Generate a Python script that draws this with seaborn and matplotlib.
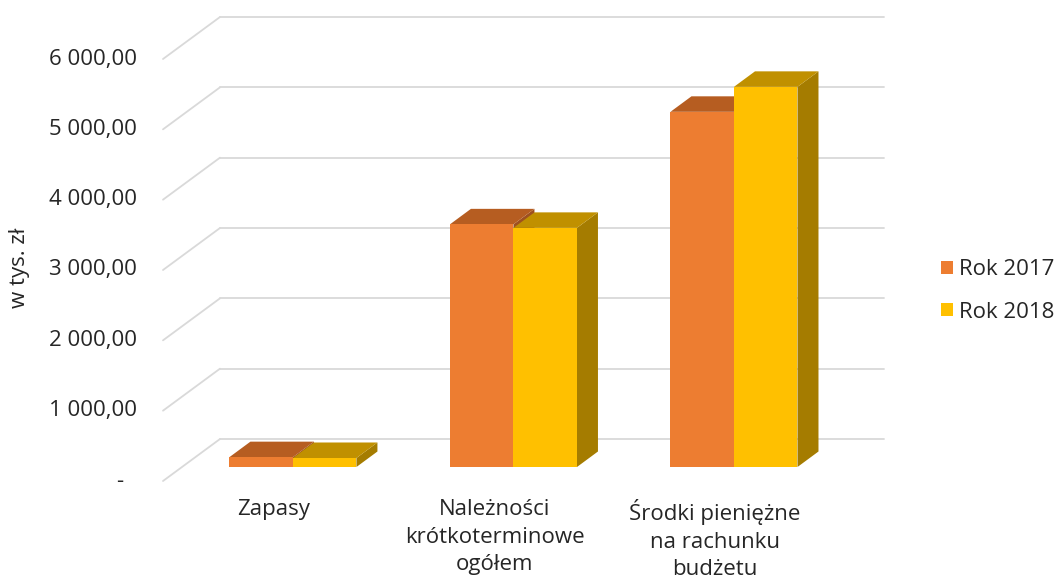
import pandas as pd
import numpy as np
import seaborn as sns
import matplotlib.pyplot as plt

# data (w tys. zł)
categories = ['Zapasy', 'Należności\nkrótkoterminowe\nogółem', 'Środki pieniężne\nna rachunku\nbudżetu']
years = ['Rok 2017', 'Rok 2018']
values_2017 = [140, 3450, 5050]
values_2018 = [128, 3400, 5405]
yticks = [0, 1000, 2000, 3000, 4000, 5000, 6000]
ytick_labels = ['-', '1 000,00', '2 000,00', '3 000,00', '4 000,00', '5 000,00', '6 000,00']

front_colors = ['#ED7D31', '#FFC000']
top_colors = ['#B65D21', '#C09000']
side_colors = ['#9E5020', '#A57C00']
grid_color = '#D9D9D9'

df = pd.DataFrame({
    'kategoria': categories * 2,
    'rok': [years[0]] * 3 + [years[1]] * 3,
    'wartosc': values_2017 + values_2018,
})

sns.set_theme(style='white')
plt.rcParams['font.family'] = ['Open Sans', 'DejaVu Sans']

W, H = 1061, 576
fig = plt.figure(figsize=(W / 100, H / 100), dpi=100)
# axes = front plane of the bars (pixels: x 182..846, value 0 at y=467, 6000 at y=45)
ax = fig.add_axes([182 / W, (H - 467) / H, 664 / W, 422 / H])

sns.barplot(data=df, x='kategoria', y='wartosc', hue='rok', palette=front_colors,
            width=0.576, linewidth=0, saturation=1, ax=ax)
handles, labels = ax.get_legend_handles_labels()
ax.get_legend().remove()
ax.set_xlim(-0.503, 2.508)
ax.set_ylim(0, 6000)
ax.axis('off')


def shifted(x, y, dx, dy):
    # move a data point by a pixel offset
    px, py = ax.transData.transform((x, y))
    return ax.transData.inverted().transform((px + dx, py + dy))


x0, x1 = ax.get_xlim()
back = (38, 28)     # bar plane -> back wall
front = (-19, -14)  # bar plane -> front edge
depth = (21, 15.5)  # depth of a bar

# back wall grid and the diagonal floor/side lines
for v, lab in zip(yticks, ytick_labels):
    a = shifted(x0, v, *back)
    b = shifted(x1, v, *back)
    c = shifted(x0, v, *front)
    ax.plot([a[0], b[0]], [a[1], b[1]], color=grid_color, lw=1.3, zorder=0, clip_on=False)
    ax.plot([c[0], a[0]], [c[1], a[1]], color=grid_color, lw=1.3, zorder=0, clip_on=False)
    off = -59 if lab == '-' else -45
    t = shifted(x0, v, off, -14)
    ax.text(t[0], t[1], lab, ha='right', va='center', fontsize=16, color='#262626', clip_on=False)

# 3D top and side faces for every bar
z = 2
for i in range(len(categories)):
    for k, cont in enumerate(ax.containers):
        bar = cont.patches[i]
        bx0, bx1 = bar.get_x(), bar.get_x() + bar.get_width()
        h = bar.get_height()
        side = [(bx1, 0), (bx1, h), tuple(shifted(bx1, h, *depth)), tuple(shifted(bx1, 0, *depth))]
        top = [(bx0, h), (bx1, h), tuple(shifted(bx1, h, *depth)), tuple(shifted(bx0, h, *depth))]
        ax.fill([p[0] for p in side], [p[1] for p in side], color=side_colors[k],
                lw=0, zorder=z, clip_on=False)
        ax.fill([p[0] for p in top], [p[1] for p in top], color=top_colors[k],
                lw=0, zorder=z + 0.1, clip_on=False)
        bar.set_zorder(z + 0.2)
        z += 1

# category labels on the front edge
for i, cat in enumerate(categories):
    t = shifted(i, 0, -19, -32)
    ax.text(t[0], t[1], cat, ha='center', va='top', fontsize=16, color='#262626',
            linespacing=1.42, multialignment='center', clip_on=False)

fig.text(19 / W, 1 - 268 / H, 'w tys. zł', rotation=90, ha='center', va='center',
         fontsize=16, color='#262626')

fig.legend(handles, labels, loc='center left', bbox_to_anchor=(941 / W, 1 - 291 / H),
           frameon=False, fontsize=16, handlelength=0.55, handleheight=0.55,
           handletextpad=0.25, labelspacing=0.96, borderpad=0, borderaxespad=0)
for txt in fig.legends[0].get_texts():
    txt.set_color('#262626')

plt.savefig('out.png', dpi=100)
plt.close()
